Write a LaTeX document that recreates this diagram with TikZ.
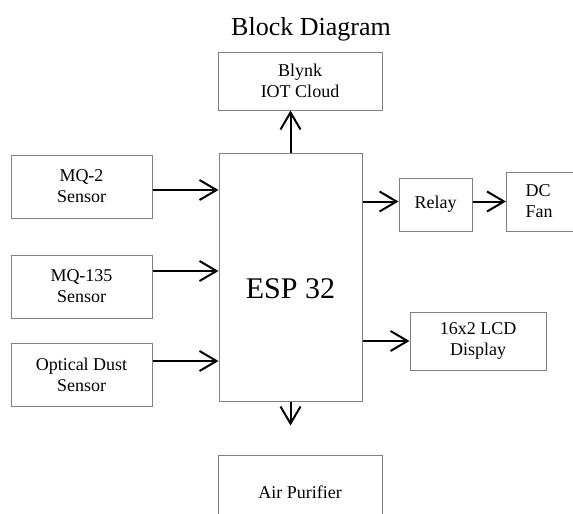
\documentclass[tikz,border=0pt]{standalone}
\usepackage{fontspec}
\setmainfont{Liberation Serif}
\usetikzlibrary{arrows.meta}

\begin{document}
\begin{tikzpicture}[x=1pt, y=-1pt, >={Straight Barb[length=17pt,width=20pt]},
  block/.style={draw=gray, line width=1pt, align=center, inner sep=0pt, font=\fontsize{18}{21}\selectfont},
  link/.style={->, line width=2pt}]

  \useasboundingbox (0,0) rectangle (573,514);
  \clip (0,0) rectangle (573,514);

  \node[font=\fontsize{26}{30}\selectfont] (title) at (311,29) {Block Diagram};

  \node[block, minimum width=164pt, minimum height=58pt]  (cloud) at (300,81)     {Blynk\\IOT Cloud};
  \node[block, minimum width=143pt, minimum height=248pt, align=none,
        font=\fontsize{30}{36}\selectfont, text height=42pt, text depth=0pt] (esp) at (290.5,277) {ESP 32};
  \node[block, minimum width=141pt, minimum height=63pt]  (mq2)   at (81.5,186.5) {MQ-2\\Sensor};
  \node[block, minimum width=141pt, minimum height=63pt]  (mq135) at (81.5,286.5) {MQ-135\\Sensor};
  \node[block, minimum width=141pt, minimum height=63pt]  (dust)  at (81.5,374.5) {Optical Dust\\Sensor};
  \node[block, minimum width=73pt, minimum height=53pt]   (relay) at (435.5,204.5) {Relay};
  \node[block, anchor=west, minimum height=59pt, text width=70pt, align=left, inner xsep=19pt] (fan) at (506,201.5) {DC\\Fan};
  \node[block, minimum width=136pt, minimum height=58pt]  (lcd)   at (478,341)    {16x2 LCD\\Display};
  \node[block, minimum width=164pt, minimum height=74pt]  (air)   at (300,492)    {Air Purifier};

  % inputs
  \coordinate (in1) at ([yshift=-3.5pt]mq2.east);
  \coordinate (in2) at ([yshift=15.5pt]mq135.east);
  \coordinate (in3) at ([yshift=13.5pt]dust.east);
  \draw[link] (in1) -- (in1 -| esp.west);
  \draw[link] (in2) -- (in2 -| esp.west);
  \draw[link] (in3) -- (in3 -| esp.west);

  % outputs
  \coordinate (out1) at ([yshift=3pt]relay.west);
  \coordinate (down) at ([yshift=-24pt]esp.south);
  \draw[link] (esp.north) -- (esp.north |- cloud.south);
  \draw[link] (out1 -| esp.east) -- (out1);
  \draw[link] (fan.west -| relay.east) -- (fan.west);
  \draw[link] (lcd.west -| esp.east) -- (lcd.west);
  \draw[link] (esp.south) -- (down);

\end{tikzpicture}
\end{document}
